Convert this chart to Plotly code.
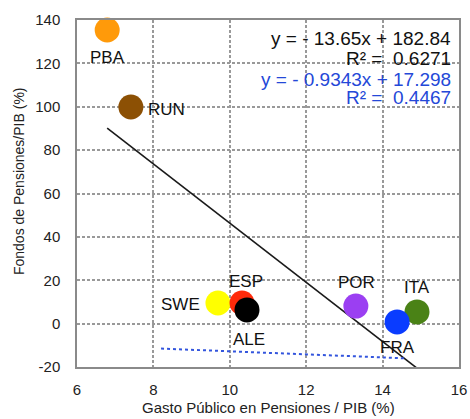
import plotly.graph_objects as go

# Data
countries = ["PBA", "RUN", "SWE", "ESP", "ALE", "POR", "ITA", "FRA"]
gasto = [6.79, 7.41, 9.69, 10.32, 10.45, 13.30, 14.90, 14.38]
fondos = [135.4, 99.9, 9.5, 9.5, 6.3, 8.1, 5.4, 0.8]
colors = ["#FF9A0A", "#8C5004", "#FFFF00", "#FF2A0A", "#000000", "#9B3FF2", "#4A8216", "#0A3CFF"]

# label offsets (pixels) and anchors
lab_dx = [0, 15, -16, 4, 2, 1, 0, 0]
lab_dy = [-28, -3, -1, 22, -30, 24, 24, -26]
lab_anchor = ["center", "left", "right", "center", "center", "center", "center", "center"]

# trend lines
fit1_slope, fit1_inter = -13.65, 182.84
fit2_x = [8.2, 14.6]
fit2_y = [-11.5, -16.0]

eq_text = ["y = - 13.65x + 182.84", "R² =  0.6271", "y = - 0.9343x + 17.298", "R² =  0.4467"]
eq_color = ["#111111", "#111111", "#2448D8", "#2448D8"]
eq_ypos = [0.948, 0.890, 0.828, 0.776]

xticks = [6, 8, 10, 12, 14, 16]
yticks = [-20, 0, 20, 40, 60, 80, 100, 120, 140]

FONT = "Liberation Sans"
GRID = "#999999"

fig = go.Figure()

x0, x1 = min(gasto), max(gasto)
fig.add_trace(go.Scatter(
    x=[x0, x1], y=[fit1_slope * x0 + fit1_inter, fit1_slope * x1 + fit1_inter],
    mode="lines", line=dict(color="#1a1a1a", width=1.6), hoverinfo="skip", showlegend=False))
fig.add_trace(go.Scatter(
    x=fit2_x, y=fit2_y, mode="lines",
    line=dict(color="#3355DD", width=2, dash="dot"), hoverinfo="skip", showlegend=False))

fig.add_trace(go.Scatter(
    x=gasto, y=fondos, mode="markers",
    marker=dict(size=25, color=colors, line=dict(width=0)),
    showlegend=False, cliponaxis=False))

for c, xv, yv, dx, dy, anc in zip(countries, gasto, fondos, lab_dx, lab_dy, lab_anchor):
    fig.add_annotation(x=xv, y=yv, text=c, showarrow=False, xshift=dx, yshift=dy,
                       xanchor=anc, yanchor="middle",
                       font=dict(family=FONT, size=17, color="#111111"))

for t, col, yp in zip(eq_text, eq_color, eq_ypos):
    fig.add_annotation(x=0.985, y=yp, xref="paper", yref="paper", text=t, showarrow=False,
                       xanchor="right", yanchor="middle",
                       font=dict(family=FONT, size=19, color=col))

# axis titles as paper annotations
fig.add_annotation(x=0.5, y=-0.118, xref="paper", yref="paper", showarrow=False,
                   text="Gasto Público en Pensiones / PIB (%)", xanchor="center", yanchor="middle",
                   font=dict(family=FONT, size=15, color="#222222"))
fig.add_annotation(x=-0.15, y=0.535, xref="paper", yref="paper", showarrow=False, textangle=-90,
                   text="Fondos de Pensiones/PIB (%)", xanchor="center", yanchor="middle",
                   font=dict(family=FONT, size=14, color="#222222"))

fig.update_layout(
    width=470, height=419,
    margin=dict(l=77, r=11, t=20, b=52, autoexpand=False),
    paper_bgcolor="white", plot_bgcolor="white",
    font=dict(family=FONT, color="#222222"),
)
fig.update_xaxes(
    range=[6, 16], tickvals=xticks, ticktext=[str(v) for v in xticks],
    showgrid=True, gridcolor=GRID, gridwidth=1.5, griddash="3px,2px",
    showline=True, mirror=True, linecolor="#8a8a8a", linewidth=1.5,
    zeroline=False, ticks="", ticklabelstandoff=8, automargin=False,
    tickfont=dict(family=FONT, size=15, color="#222222"),
)
fig.update_yaxes(
    range=[-20, 140], tickvals=yticks, ticktext=[str(v) for v in yticks],
    showgrid=True, gridcolor=GRID, gridwidth=1.5, griddash="3px,2px",
    showline=True, mirror=True, linecolor="#8a8a8a", linewidth=1.5,
    zeroline=False, ticks="", ticklabelstandoff=12, automargin=False,
    tickfont=dict(family=FONT, size=15, color="#222222"),
)

fig.write_html("out.html")
